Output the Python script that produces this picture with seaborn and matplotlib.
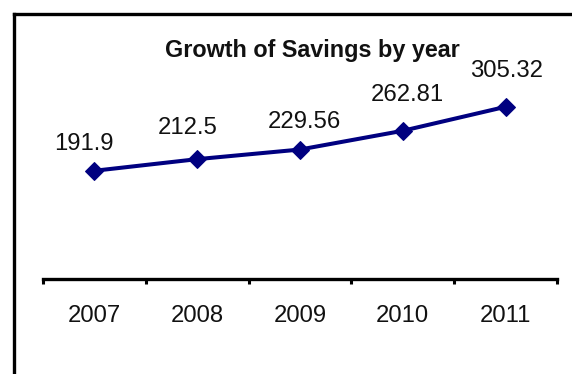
import matplotlib
matplotlib.use("Agg")
import matplotlib.pyplot as plt
import seaborn as sns
import numpy as np
from matplotlib.lines import Line2D

years = ["2007", "2008", "2009", "2010", "2011"]
savings = [191.9, 212.5, 229.56, 262.81, 305.32]
title = "Growth of Savings by year"

# label placement offsets (points), layout only
label_dx = [-7.6, -7.2, 2.9, 3.2, 0.7]
label_dy = [15.1, 18.0, 15.8, 21.6, 21.6]

sns.set_style("white")
plt.rcParams['font.family'] = ['Liberation Sans', 'DejaVu Sans']

fig = plt.figure(figsize=(5.72, 3.74), dpi=100)
ax = fig.add_axes([43/572, (374-279)/374, (557-43)/572, (279-53.4)/374])

pos = np.arange(len(years))
sns.lineplot(x=pos, y=savings, ax=ax, color="#000080", linewidth=2.9,
             marker="D", markersize=9, markeredgecolor="#000080")

for x, v, dx, dy in zip(pos, savings, label_dx, label_dy):
    ax.annotate(f"{v:g}", (x, v), xytext=(dx, dy), textcoords="offset points",
                ha="center", va="baseline", fontsize=17.2, color="#111111")

ax.set_xlim(-0.5, len(years) - 0.5)
ax.set_ylim(0, 400)
ax.set_yticks([])
ax.set_xticks(pos)
ax.set_xticklabels(years, fontsize=17.2, color="#111111")
ax.set_xticks(np.arange(-0.5, len(years)), minor=True)
ax.tick_params(axis="x", which="major", length=0, pad=19)
ax.tick_params(axis="x", which="minor", length=3.5, width=2.2, direction="out", color="black", bottom=True)
for s in ["top", "right", "left"]:
    ax.spines[s].set_visible(False)
ax.spines["bottom"].set_linewidth(2.4)
ax.spines["bottom"].set_color("black")

fig.text(312/572, 1 - 57/374, title, ha="center", va="baseline",
         fontsize=16.8, fontweight="bold", color="#111111")

# outer frame (left and top borders)
fig.add_artist(Line2D([13.5/572, 13.5/572], [0, 1 - 13.5/374], transform=fig.transFigure,
                      color="black", linewidth=2.4, solid_capstyle="projecting"))
fig.add_artist(Line2D([13.5/572, 1], [1 - 13.5/374, 1 - 13.5/374], transform=fig.transFigure,
                      color="black", linewidth=2.4, solid_capstyle="projecting"))

fig.savefig("out.png", dpi=100)
